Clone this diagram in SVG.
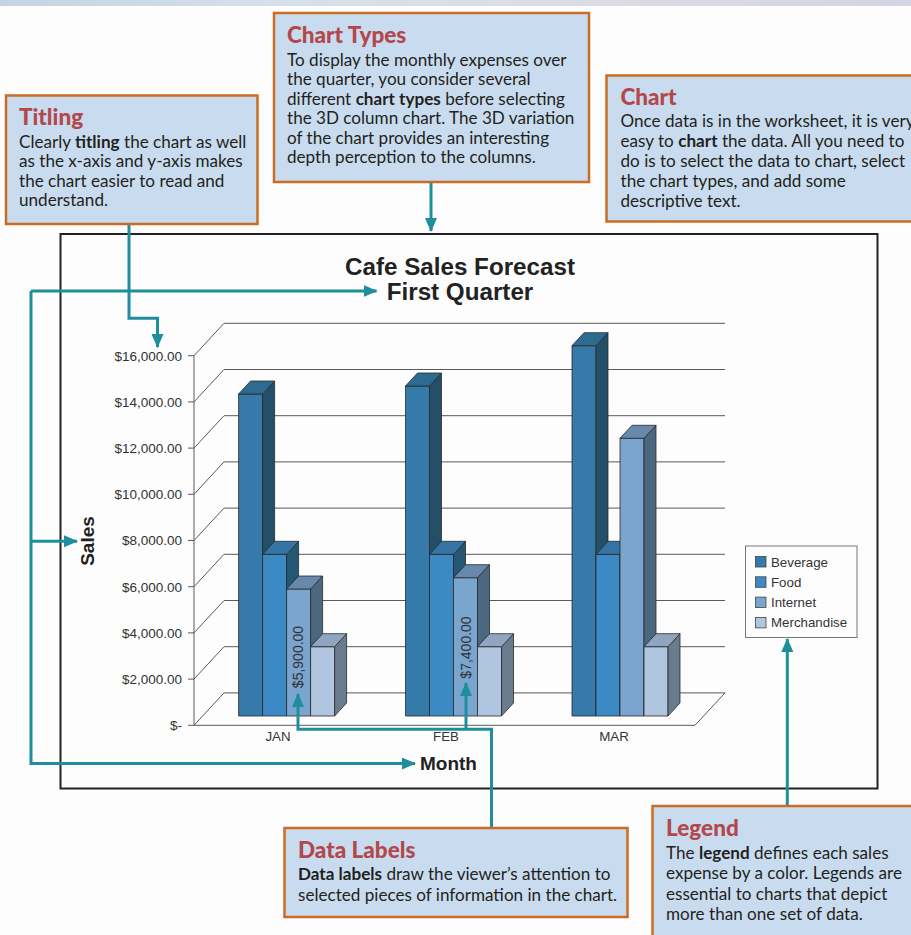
<svg xmlns="http://www.w3.org/2000/svg" width="911" height="935" viewBox="0 0 911 935">
<defs>
<linearGradient id="topband" x1="0" y1="0" x2="1" y2="0">
<stop offset="0" stop-color="#c7d3e3"/><stop offset="0.3" stop-color="#d5e0ea"/><stop offset="0.6" stop-color="#dcdce6"/><stop offset="1" stop-color="#d3d6e2"/>
</linearGradient>
<marker id="ah" markerUnits="userSpaceOnUse" markerWidth="14" markerHeight="12" refX="13" refY="6" orient="auto">
<path d="M0,0 L14,6 L0,12 Z" fill="#1f8e9c"/>
</marker>
<style>
.box{fill:#c9dcef;stroke:#cc6b22;stroke-width:2.5}
.ttl{font-family:Lato,"Open Sans",sans-serif;font-weight:900;font-size:22.5px;fill:#b3474b}
.body{font-family:Lato,"Open Sans",sans-serif;font-size:17.1px;fill:#231f20}
.b{font-weight:700}
.conn{fill:none;stroke:#1f8e9c;stroke-width:3}
.grid{stroke:#5a5a5a;stroke-width:1;fill:none}
.ax{font-family:"Liberation Sans",Arial,sans-serif;font-size:13.3px;fill:#333}
.tk{font-size:13.5px}
.dl{font-size:14px}
.axt{font-family:"Liberation Sans",Arial,sans-serif;font-size:19px;font-weight:700;fill:#222}
.ct{font-family:"Liberation Sans",Arial,sans-serif;font-size:24.2px;font-weight:700;fill:#222}
.bar{stroke:#2a2a2a;stroke-width:0.8;stroke-linejoin:round}
.bf{fill:#357aa9}.bs{fill:#234f68}.bt{fill:#2e6b90}
.ff{fill:#3b8ac6}.fs{fill:#255672}.ft{fill:#3575a5}
.if{fill:#7aa5cf}.is{fill:#4c6780}.it{fill:#6888ad}
.mf{fill:#b0c5e0}.ms{fill:#6a7b8e}.mt{fill:#90a6c0}
</style>
</defs>
<rect x="0" y="0" width="911" height="935" fill="#fdfdfd"/>
<rect x="0" y="0" width="911" height="6" fill="url(#topband)"/>

<!-- chart frame -->
<g id="chart">
<rect x="60.5" y="234" width="817" height="554.5" fill="#fdfdfd" stroke="#222" stroke-width="2"/>
<text class="ct" x="460" y="274.5" text-anchor="middle">Cafe Sales Forecast</text>
<text class="ct" x="460" y="299.5" text-anchor="middle">First Quarter</text>
<!-- gridlines back wall -->
<g class="grid">
<path d="M224,323.3H725 M224,369.5H725 M224,415.7H725 M224,461.9H725 M224,508.1H725 M224,554.3H725 M224,600.5H725 M224,646.7H725 M224,692.9H725"/>
<path d="M194,355.7L224,323.3 M194,401.9L224,369.5 M194,448.1L224,415.7 M194,494.3L224,461.9 M194,540.5L224,508.1 M194,586.7L224,554.3 M194,632.9L224,600.5 M194,679.1L224,646.7 M194,725.3L224,692.9"/>
<path d="M194,355.7V725.3H695L725,692.9"/>
<path d="M188,355.7H194 M188,401.9H194 M188,448.1H194 M188,494.3H194 M188,540.5H194 M188,586.7H194 M188,632.9H194 M188,679.1H194 M188,725.3H194"/>
</g>
<g class="ax tk" text-anchor="end">
<text x="182" y="360.5">$16,000.00</text>
<text x="182" y="406.7">$14,000.00</text>
<text x="182" y="452.9">$12,000.00</text>
<text x="182" y="499.1">$10,000.00</text>
<text x="182" y="545.3">$8,000.00</text>
<text x="182" y="591.5">$6,000.00</text>
<text x="182" y="637.7">$4,000.00</text>
<text x="182" y="683.9">$2,000.00</text>
<text x="182" y="730.1">$-</text>
</g>
<g class="ax" text-anchor="middle">
<text x="278" y="741">JAN</text>
<text x="446" y="741">FEB</text>
<text x="614" y="741">MAR</text>
</g>
<text class="axt" x="420" y="770">Month</text>
<text class="axt" transform="translate(94,541) rotate(-90)" text-anchor="middle">Sales</text>
</g>

<!-- bars -->
<g id="bars" class="bar">
<!-- JAN -->
<rect class="bf" x="238.6" y="394" width="24" height="322"/>
<path class="bs" d="M262.6,394L274.6,381V703L262.6,716Z"/>
<path class="bt" d="M238.6,394L250.6,381H274.6L262.6,394Z"/>
<rect class="ff" x="262.6" y="554.3" width="24" height="161.7"/>
<path class="fs" d="M286.6,554.3L298.6,541.3V703L286.6,716Z"/>
<path class="ft" d="M262.6,554.3L274.6,541.3H298.6L286.6,554.3Z"/>
<rect class="if" x="286.6" y="589" width="24" height="127"/>
<path class="is" d="M310.6,589L322.6,576V703L310.6,716Z"/>
<path class="it" d="M286.6,589L298.6,576H322.6L310.6,589Z"/>
<rect class="mf" x="310.6" y="646.7" width="24" height="69.3"/>
<path class="ms" d="M334.6,646.7L346.6,633.7V703L334.6,716Z"/>
<path class="mt" d="M310.6,646.7L322.6,633.7H346.6L334.6,646.7Z"/>
<!-- FEB -->
<rect class="bf" x="405.5" y="386" width="24" height="330"/>
<path class="bs" d="M429.5,386L441.5,373V703L429.5,716Z"/>
<path class="bt" d="M405.5,386L417.5,373H441.5L429.5,386Z"/>
<rect class="ff" x="429.5" y="554.3" width="24" height="161.7"/>
<path class="fs" d="M453.5,554.3L465.5,541.3V703L453.5,716Z"/>
<path class="ft" d="M429.5,554.3L441.5,541.3H465.5L453.5,554.3Z"/>
<rect class="if" x="453.5" y="577.7" width="24" height="138.3"/>
<path class="is" d="M477.5,577.7L489.5,564.7V703L477.5,716Z"/>
<path class="it" d="M453.5,577.7L465.5,564.7H489.5L477.5,577.7Z"/>
<rect class="mf" x="477.5" y="646.7" width="24" height="69.3"/>
<path class="ms" d="M501.5,646.7L513.5,633.7V703L501.5,716Z"/>
<path class="mt" d="M477.5,646.7L489.5,633.7H513.5L501.5,646.7Z"/>
<!-- MAR -->
<rect class="bf" x="572" y="345.7" width="24" height="370.3"/>
<path class="bs" d="M596,345.7L608,332.7V703L596,716Z"/>
<path class="bt" d="M572,345.7L584,332.7H608L596,345.7Z"/>
<rect class="ff" x="596" y="554.3" width="24" height="161.7"/>
<path class="fs" d="M620,554.3L632,541.3V703L620,716Z"/>
<path class="ft" d="M596,554.3L608,541.3H632L620,554.3Z"/>
<rect class="if" x="620" y="438.3" width="24" height="277.7"/>
<path class="is" d="M644,438.3L656,425.3V703L644,716Z"/>
<path class="it" d="M620,438.3L632,425.3H656L644,438.3Z"/>
<rect class="mf" x="644" y="646.7" width="24" height="69.3"/>
<path class="ms" d="M668,646.7L680,633.7V703L668,716Z"/>
<path class="mt" d="M644,646.7L656,633.7H680L668,646.7Z"/>
</g>
<g id="datalabels" class="ax dl">
<text transform="translate(303.2,657) rotate(-90)" text-anchor="middle">$5,900.00</text>
<text transform="translate(470.7,647.5) rotate(-90)" text-anchor="middle">$7,400.00</text>
</g>

<!-- legend -->
<g id="legend">
<rect x="745.5" y="546" width="111.5" height="91.5" fill="#fdfdfd" stroke="#777" stroke-width="1"/>
<g stroke="#444" stroke-width="0.8">
<rect x="755.5" y="556.5" width="10.5" height="10.5" fill="#357aa9"/>
<rect x="755.5" y="576.8" width="10.5" height="10.5" fill="#3b8ac6"/>
<rect x="755.5" y="597.1" width="10.5" height="10.5" fill="#7aa5cf"/>
<rect x="755.5" y="617.4" width="10.5" height="10.5" fill="#b0c5e0"/>
</g>
<g class="ax">
<text x="771" y="566.5">Beverage</text>
<text x="771" y="586.8">Food</text>
<text x="771" y="607.1">Internet</text>
<text x="771" y="627.4">Merchandise</text>
</g>
</g>

<!-- connectors -->
<g id="connectors" class="conn">
<path d="M431,182V231" marker-end="url(#ah)"/>
<path d="M129,225V318.3H157.5V347" marker-end="url(#ah)"/>
<path d="M31,291H376.5" marker-end="url(#ah)"/>
<path d="M31,291V763.5H415" marker-end="url(#ah)"/>
<path d="M31,541.3H77" marker-end="url(#ah)"/>
<path d="M491.5,828V729.3H298V694" marker-end="url(#ah)"/>
<path d="M466,729.3V683" marker-end="url(#ah)"/>
<path d="M787.3,805V639" marker-end="url(#ah)"/>
</g>

<!-- callout boxes -->
<g id="titling">
<rect class="box" x="6" y="95.5" width="251.5" height="128.5"/>
<text class="ttl" x="19" y="125">Titling</text>
<text class="body" x="19" y="147.7">Clearly <tspan class="b">titling</tspan> the chart as well</text>
<text class="body" x="19" y="167.3">as the x-axis and y-axis makes</text>
<text class="body" x="19" y="186.7">the chart easier to read and</text>
<text class="body" x="19" y="206">understand.</text>
</g>
<g id="charttypes">
<rect class="box" x="274" y="13" width="315" height="169"/>
<text class="ttl" x="287" y="43">Chart Types</text>
<text class="body" x="287" y="65.5">To display the monthly expenses over</text>
<text class="body" x="287" y="85">the quarter, you consider several</text>
<text class="body" x="287" y="104.5">different <tspan class="b">chart types</tspan> before selecting</text>
<text class="body" x="287" y="124">the 3D column chart. The 3D variation</text>
<text class="body" x="287" y="143.5">of the chart provides an interesting</text>
<text class="body" x="287" y="163">depth perception to the columns.</text>
</g>
<g id="chartbox">
<rect class="box" x="606.5" y="75.5" width="310" height="146"/>
<text class="ttl" x="620.5" y="105">Chart</text>
<text class="body" x="620.5" y="127.3">Once data is in the worksheet, it is very</text>
<text class="body" x="620.5" y="147.3">easy to <tspan class="b">chart</tspan> the data. All you need to</text>
<text class="body" x="620.5" y="167.3">do is to select the data to chart, select</text>
<text class="body" x="620.5" y="186.7">the chart types, and add some</text>
<text class="body" x="620.5" y="206.7">descriptive text.</text>
</g>
<g id="datalabelsbox">
<rect class="box" x="284.5" y="828" width="343" height="89"/>
<text class="ttl" x="298" y="858">Data Labels</text>
<text class="body" x="298" y="880"><tspan class="b">Data labels</tspan> draw the viewer’s attention to</text>
<text class="body" x="298" y="900.5">selected pieces of information in the chart.</text>
</g>
<g id="legendbox">
<rect class="box" x="652.5" y="806" width="270" height="140"/>
<text class="ttl" x="666" y="836">Legend</text>
<text class="body" x="666" y="858.5">The <tspan class="b">legend</tspan> defines each sales</text>
<text class="body" x="666" y="879">expense by a color. Legends are</text>
<text class="body" x="666" y="899.5">essential to charts that depict</text>
<text class="body" x="666" y="920">more than one set of data.</text>
</g>
</svg>
